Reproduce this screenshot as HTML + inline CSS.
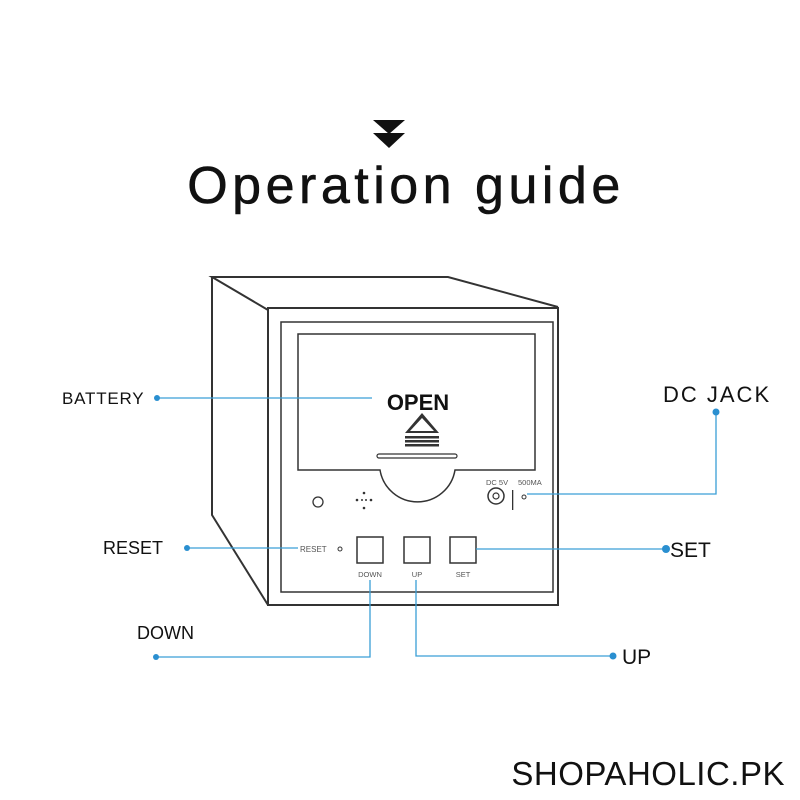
<!DOCTYPE html>
<html><head><style>
body{margin:0;background:#fff;width:800px;height:800px;overflow:hidden}
svg{display:block}
</style></head><body>
<svg width="800" height="800" viewBox="0 0 800 800" xmlns="http://www.w3.org/2000/svg" font-family="Liberation Sans, sans-serif">
<polygon points="373,120 405,120 389,134" fill="#111"/>
<polygon points="373,133 405,133 389,148" fill="#111"/>
<text x="406" y="203" font-size="52" text-anchor="middle" fill="#111" letter-spacing="4.5" stroke="#111" stroke-width="0.6">Operation guide</text>
<g fill="none" stroke="#333" stroke-width="2">
<polyline points="268,310 212,277 448,277 558,307"/>
<polyline points="212,277 212,515 268,605"/>
<rect x="268" y="308" width="290" height="297"/>
<rect x="281" y="322" width="272" height="270" stroke-width="1.5"/>
<path d="M298,334 H535 V470 H455 A38,38 0 0 1 380,470 H298 Z" stroke-width="1.5"/>
<rect x="377" y="454" width="80" height="4" rx="2" stroke-width="1.2"/>
<circle cx="318" cy="502" r="5" stroke-width="1.3"/>
<circle cx="496" cy="496" r="8" stroke-width="1.5"/>
<circle cx="496" cy="496" r="3" stroke-width="1.2"/>
<circle cx="524" cy="497" r="2" stroke-width="1"/>
<circle cx="340" cy="549" r="2" stroke-width="1"/>
<rect x="357" y="537" width="26" height="26" stroke-width="1.5"/>
<rect x="404" y="537" width="26" height="26" stroke-width="1.5"/>
<rect x="450" y="537" width="26" height="26" stroke-width="1.5"/>
</g>
<g fill="#333">
<circle cx="364" cy="493" r="1.3"/><circle cx="364" cy="508" r="1.3"/><circle cx="357" cy="500" r="1.3"/><circle cx="371" cy="500" r="1.3"/><circle cx="362" cy="500" r="1"/><circle cx="366" cy="500" r="1"/>
<polygon points="422,413 405,433 439,433"/>
<rect x="405" y="436" width="34" height="2.5"/><rect x="405" y="440" width="34" height="2.5"/><rect x="405" y="444" width="34" height="2.5"/>
<rect x="512" y="490" width="1.3" height="20"/>
</g>
<polygon points="422,418 410,431 434,431" fill="#fff"/>
<text x="418" y="410" font-size="22" font-weight="bold" text-anchor="middle" fill="#111">OPEN</text>
<g font-size="7.5" fill="#555">
<text x="486" y="485">DC 5V</text><text x="518" y="485">500MA</text>
<text x="300" y="552" font-size="8">RESET</text>
<text x="370" y="577" text-anchor="middle">DOWN</text>
<text x="417" y="577" text-anchor="middle">UP</text>
<text x="463" y="577" text-anchor="middle">SET</text>
</g>
<g stroke="#3a9fd6" stroke-width="1.3" fill="none">
<line x1="157" y1="398" x2="372" y2="398"/>
<polyline points="527,494 716,494 716,413"/>
<line x1="476" y1="549" x2="666" y2="549"/>
<line x1="187" y1="548" x2="298" y2="548"/>
<polyline points="370,580 370,657 156,657"/>
<polyline points="416,580 416,656 613,656"/>
</g>
<g fill="#2a8fd0">
<circle cx="157" cy="398" r="3"/><circle cx="716" cy="412" r="3.5"/><circle cx="666" cy="549" r="4"/>
<circle cx="187" cy="548" r="3"/><circle cx="156" cy="657" r="3"/><circle cx="613" cy="656" r="3.5"/>
</g>
<g fill="#111">
<text x="62" y="404" font-size="17" letter-spacing="0.8">BATTERY</text>
<text x="663" y="402" font-size="22" letter-spacing="2">DC JACK</text>
<text x="103" y="554" font-size="18">RESET</text>
<text x="670" y="557" font-size="21">SET</text>
<text x="137" y="639" font-size="18">DOWN</text>
<text x="622" y="664" font-size="21">UP</text>
<text x="785" y="785" font-size="33" text-anchor="end" letter-spacing="0.5">SHOPAHOLIC.PK</text>
</g>
</svg>
</body></html>
